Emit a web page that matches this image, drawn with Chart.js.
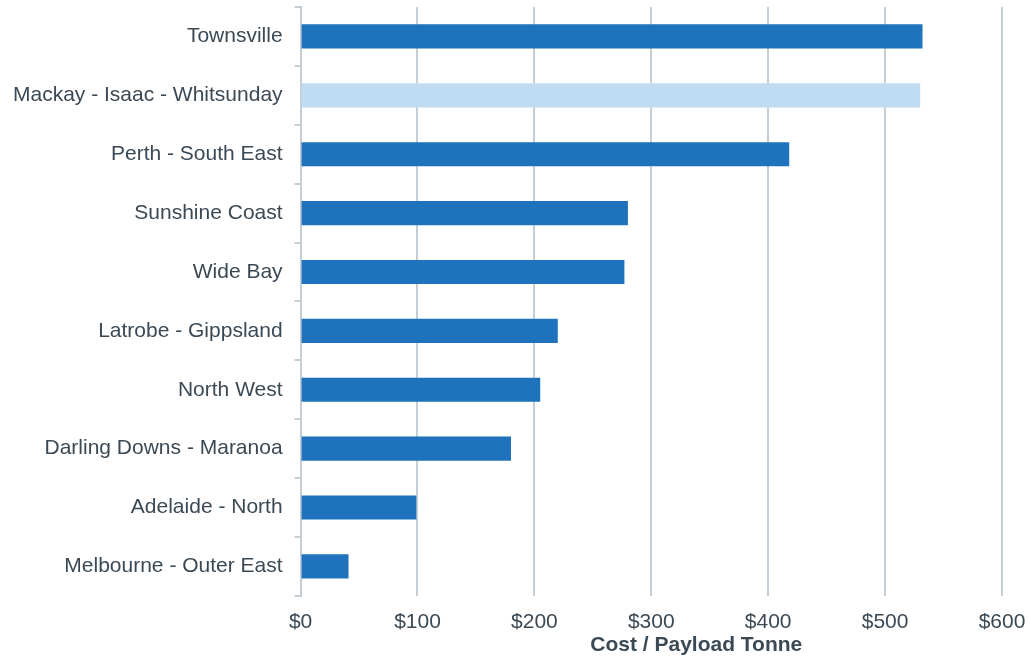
<!DOCTYPE html>
<html>
<head>
<meta charset="utf-8">
<script src="https://cdn.jsdelivr.net/npm/chart.js@4"></script>
<style>
  html, body { margin: 0; padding: 0; background: #fff; }
  #wrap { width: 1029px; height: 659px; }
</style>
</head>
<body>
<div id="wrap"><canvas id="costChart"></canvas></div>
<script>
  // 地区
  const regions = [
    'Townsville',
    'Mackay - Isaac - Whitsunday',
    'Perth - South East',
    'Sunshine Coast',
    'Wide Bay',
    'Latrobe - Gippsland',
    'North West',
    'Darling Downs - Maranoa',
    'Adelaide - North',
    'Melbourne - Outer East'
  ];

  // 每吨载重成本
  const costPerTonne = [532, 530, 418, 280, 277, 220, 205, 180, 99, 41];

  const highlightIndex = 1;
  const baseColor = '#1f73bc';
  const highlightColor = '#bfdcf3';
  const textColor = '#3b4955';
  const gridColor = '#c3ced6';
  const fontFamily = '"Liberation Sans", Arial, sans-serif';

  const barColors = regions.map((r, i) => i === highlightIndex ? highlightColor : baseColor);

  // 轴标题（略偏右）
  const axisTitlePlugin = {
    id: 'axisTitle',
    afterDraw(chart) {
      const ctx = chart.ctx;
      const area = chart.chartArea;
      ctx.save();
      ctx.font = 'bold 21px ' + fontFamily;
      ctx.fillStyle = textColor;
      ctx.textAlign = 'center';
      ctx.textBaseline = 'middle';
      ctx.fillText('Cost / Payload Tonne', (area.left + area.right) / 2 + 45, 645);
      ctx.restore();
    }
  };

  new Chart(document.getElementById('costChart').getContext('2d'), {
    type: 'bar',
    data: {
      labels: regions,
      datasets: [{
        data: costPerTonne,
        backgroundColor: barColors,
        borderWidth: 0,
        categoryPercentage: 1,
        barPercentage: 0.41
      }]
    },
    options: {
      indexAxis: 'y',
      responsive: true,
      maintainAspectRatio: false,
      animation: false,
      layout: { padding: { left: 9, right: 27, top: 7, bottom: 10 } },
      scales: {
        x: {
          min: 0,
          max: 600,
          ticks: {
            stepSize: 100,
            color: textColor,
            padding: 14,
            font: { size: 21, family: fontFamily },
            callback: v => '$' + v
          },
          grid: { color: gridColor, lineWidth: 2, tickLength: 0 },
          border: { display: false },
          afterFit(scale) {
            scale.paddingLeft = 0;
            scale.paddingRight = 0;
          }
        },
        y: {
          ticks: {
            color: textColor,
            padding: 12,
            font: { size: 21, family: fontFamily }
          },
          grid: { color: gridColor, lineWidth: 2, drawOnChartArea: false, tickLength: 6, offset: true },
          border: { color: gridColor, width: 2 },
          afterFit(scale) {
            scale.paddingTop = 0;
            scale.paddingBottom = 0;
            scale.width -= 8;
          }
        }
      },
      plugins: {
        legend: { display: false },
        tooltip: { enabled: false }
      }
    },
    plugins: [axisTitlePlugin]
  });
</script>
</body>
</html>
